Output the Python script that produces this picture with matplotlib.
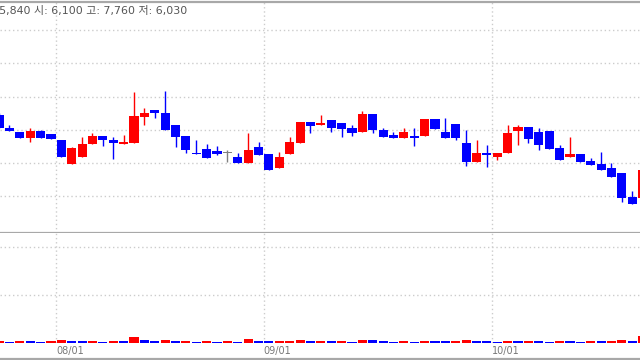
import matplotlib
matplotlib.use("Agg")
import matplotlib.pyplot as plt
from matplotlib.lines import Line2D
import matplotlib.transforms as mtransforms

# daily OHLC (won)
opens = [6720, 6530, 6470, 6380, 6480, 6440, 6350, 5990, 6090, 6290,
         6410, 6350, 6290, 6300, 6690, 6800, 6750, 6570, 6410, 6150,
         6210, 6180, 6150, 6090, 6000, 6240, 6140, 5930, 6140, 6300,
         6620, 6570, 6650, 6600, 6530, 6470, 6740, 6500, 6420, 6380,
         6410, 6410, 6660, 6470, 6590, 6300, 6020, 6150, 6090, 6150,
         6480, 6540, 6470, 6480, 6230, 6090, 6140, 6030, 5990, 5930,
         5850, 5490, 5480]
highs = [6750, 6570, 6470, 6530, 6490, 6440, 6350, 6240, 6390, 6450,
         6410, 6390, 6420, 7070, 6830, 6800, 7080, 6570, 6410, 6350,
         6290, 6260, 6200, 6150, 6450, 6320, 6140, 6170, 6390, 6620,
         6620, 6720, 6650, 6600, 6570, 6780, 6740, 6530, 6470, 6530,
         6530, 6660, 6660, 6680, 6590, 6500, 6350, 6270, 6150, 6570,
         6570, 6540, 6530, 6480, 6270, 6390, 6140, 6080, 6170, 6000,
         5850, 5580, 5950]
lows = [6530, 6480, 6380, 6320, 6380, 6360, 6090, 5980, 6090, 6280,
        6260, 6060, 6290, 6300, 6570, 6680, 6500, 6240, 6150, 6140,
        6080, 6120, 6020, 6000, 6000, 6120, 5900, 5930, 6140, 6300,
        6450, 6570, 6470, 6390, 6410, 6470, 6450, 6390, 6380, 6380,
        6260, 6410, 6510, 6380, 6350, 5950, 6020, 5940, 6050, 6150,
        6270, 6300, 6200, 6210, 6050, 6090, 6020, 5970, 5900, 5790,
        5410, 5380, 5450]
closes = [6530, 6480, 6380, 6480, 6380, 6360, 6090, 6230, 6290, 6410,
          6350, 6300, 6320, 6710, 6750, 6750, 6500, 6390, 6200, 6140,
          6080, 6140, 6150, 6000, 6200, 6120, 5900, 6090, 6320, 6620,
          6560, 6600, 6530, 6510, 6450, 6740, 6500, 6390, 6380, 6470,
          6380, 6660, 6510, 6380, 6380, 6020, 6150, 6120, 6150, 6450,
          6540, 6360, 6270, 6210, 6050, 6140, 6020, 5970, 5900, 5790,
          5470, 5380, 5900]
# volume in thousand shares
volumes = [35, 28, 40, 33, 30, 42, 65, 50, 38, 45,
           30, 36, 32, 130, 70, 45, 55, 40, 46, 30,
           34, 28, 36, 30, 75, 48, 40, 44, 52, 60,
           38, 45, 32, 40, 30, 62, 55, 36, 30, 40,
           28, 48, 42, 35, 40, 60, 50, 34, 30, 45,
           36, 42, 38, 30, 44, 35, 30, 48, 36, 52,
           60, 45, 150]
month_pos = [6, 26, 48]
month_labels = ["08/01", "09/01", "10/01"]
header = "종: 5,840 시: 6,100 고: 7,760 저: 6,030"

UP = "#ff0000"
DOWN = "#0000ff"
FLAT = "#808080"
GRID = "#cccccc"
FRAME = "#a8a8a8"

fig = plt.figure(figsize=(6.4, 3.6), dpi=100)
ax = fig.add_axes([0, 127 / 360, 1, 231 / 360])
axv = fig.add_axes([0, 17 / 360, 1, 110 / 360], sharex=ax)

x = list(range(len(opens)))
colors = [UP if c > o else DOWN if c < o else FLAT for o, c in zip(opens, closes)]

# candles
ax.vlines(x, lows, highs, colors=colors, lw=1, zorder=2)
bottoms = [min(o, c) for o, c in zip(opens, closes)]
heights = [max(abs(c - o), 14) for o, c in zip(opens, closes)]
ax.bar(x, heights, bottom=bottoms, width=0.88, color=colors, lw=0, zorder=3)

# volume bars: red when volume rose vs the day before
vcol = [UP] + [UP if volumes[i] >= volumes[i - 1] else DOWN for i in range(1, len(volumes))]
axv.bar(x, [v * 1000 for v in volumes], width=0.88, color=vcol, lw=0, zorder=3)

ax.set_ylim(4946, 8425)
ax.set_yticks(range(5500, 8001, 500))
axv.set_ylim(0, 2.29e6)
axv.set_yticks([1e6, 2e6])
ax.set_xlim(0.09, 61.75)

for a in (ax, axv):
    a.grid(axis="y", ls=(0, (1, 2)), color=GRID, lw=1)
    for m in month_pos:
        a.axvline(m - 0.5, ls=(0, (1, 2)), color=GRID, lw=1, zorder=1)
    a.tick_params(length=0, labelleft=False, labelbottom=False)
    for s in ("left", "right"):
        a.spines[s].set_visible(False)

ax.spines["top"].set_color(FRAME)
ax.spines["top"].set_linewidth(1.6)
ax.spines["bottom"].set_color(FRAME)
ax.spines["bottom"].set_linewidth(1.6)
axv.spines["top"].set_visible(False)
axv.spines["bottom"].set_visible(False)

# month labels under the volume panel
trans = mtransforms.blended_transform_factory(axv.transData, axv.transAxes)
for m, lab in zip(month_pos, month_labels):
    axv.text(m - 0.5, -0.075, lab, transform=trans, ha="left", va="center",
             fontsize=7, color="#777777", clip_on=False)

fig.add_artist(Line2D([0, 1], [1.5 / 360, 1.5 / 360], transform=fig.transFigure,
                      color=FRAME, lw=1.6))

# quote header, cut off at the left like the screenshot
fig.text(187 / 640, 1 - 11 / 360, header, ha="right", va="center", fontsize=7.9,
         color="#555555", family=["DejaVu Sans", "Noto Sans CJK KR"])

fig.savefig("out.png", dpi=100)
